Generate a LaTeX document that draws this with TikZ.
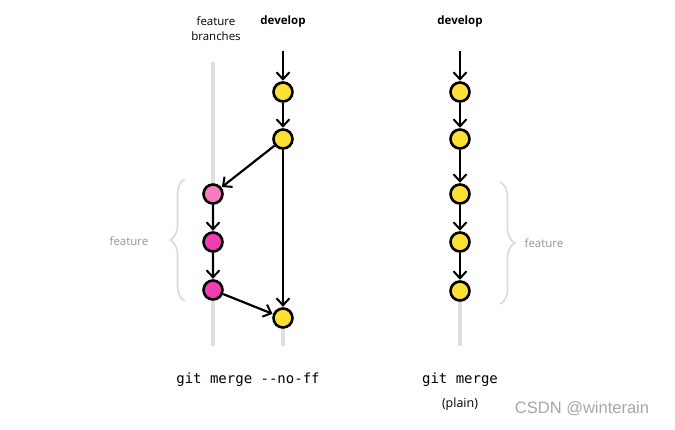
\documentclass[tikz,border=0pt]{standalone}
\usepackage{fontspec}
\setmainfont{Open Sans}
\setmonofont{DejaVu Sans Mono}
\newfontfamily\wmfont{Liberation Sans}
\usetikzlibrary{arrows.meta,decorations.pathreplacing}
\definecolor{devyellow}{HTML}{FCE033}
\definecolor{featpink}{HTML}{F23DB3}
\definecolor{featlight}{HTML}{F77DC3}

\begin{document}
\begin{tikzpicture}[x=1pt, y=-1pt,
  commit/.style={circle, draw=black, line width=2.6pt, minimum size=19pt,
                 inner sep=0pt, fill=devyellow},
  featcommit/.style={commit, fill=featpink},
  flow/.style={-{Straight Barb[length=7pt,width=13pt,line width=2pt]},
               line width=2.2pt, draw=black, shorten >=0.5pt},
  track/.style={line width=3.5pt, draw=gray!25},
  bracket/.style={decorate, decoration={brace, amplitude=15pt},
                  line width=1.6pt, draw=gray!30},
  lbl/.style={font=\fontsize{11.5}{15}\selectfont, align=center},
  note/.style={font=\fontsize{11.5}{13}\selectfont, text=gray!85},
  cmd/.style={font=\ttfamily\fontsize{14}{16}\selectfont}
]
\useasboundingbox (0,0) rectangle (675,429);

% left: git merge --no-ff
\coordinate (ftop) at (213,62);
\coordinate (fbot) at (213,346);
\coordinate (dtop) at (283,51);
\coordinate (dbot) at (283,346);
\draw[track] (ftop) -- (fbot);
\draw[track] (283,300) -- (dbot);

\node[commit] (d1) at (283,92) {};
\node[commit] (d2) at (283,139) {};
\node[commit, fill=featlight] (f1) at (213,194) {};
\node[featcommit] (f2) at (213,242) {};
\node[featcommit] (f3) at (213,290) {};
\node[commit] (dm) at (283,318) {};

\draw[flow] (dtop) -- (d1);
\draw[flow] (d1) -- (d2);
\draw[flow] (d2) -- (f1);
\draw[flow] (f1) -- (f2);
\draw[flow] (f2) -- (f3);
\draw[flow] (f3) -- (dm);
\draw[flow] (d2) -- (dm);

\node[lbl] (fblbl) at (216,29) {feature\\branches};
\node[lbl, font=\bfseries\fontsize{11.5}{15}\selectfont] (dlbl) at (283,22) {develop};

\coordinate (lbtop) at (185,179);
\coordinate (lbbot) at (185,301);
\draw[bracket] (lbbot) -- (lbtop);
\node[note] (lnote) at (129,241) {feature};

\node[cmd] (nocmd) at (248,380) {git merge --no-ff};

% right: plain git merge
\coordinate (rtop) at (460,51);
\coordinate (rbot) at (460,346);
\draw[track] (460,280) -- (rbot);

\node[commit] (r1) at (460,92) {};
\node[commit] (r2) at (460,139) {};
\node[commit] (r3) at (460,194) {};
\node[commit] (r4) at (460,242) {};
\node[commit] (r5) at (460,291) {};

\draw[flow] (rtop) -- (r1);
\foreach \a/\b in {r1/r2, r2/r3, r3/r4, r4/r5}
  \draw[flow] (\a) -- (\b);

\node[lbl, font=\bfseries\fontsize{11.5}{15}\selectfont] (rlbl) at (460,22) {develop};

\coordinate (rbtop) at (500,182);
\coordinate (rbbot) at (500,304);
\draw[bracket] (rbtop) -- (rbbot);
\node[note] (rnote) at (544,243) {feature};

\node[cmd] (plcmd) at (460,380) {git merge};
\node[lbl, font=\fontsize{12.5}{15}\selectfont] (pllbl) at (460,404) {(plain)};

\node[font=\wmfont\fontsize{16.5}{18}\selectfont, text=gray!70] (wm) at (582,409) {CSDN @winterain};
\end{tikzpicture}
\end{document}
